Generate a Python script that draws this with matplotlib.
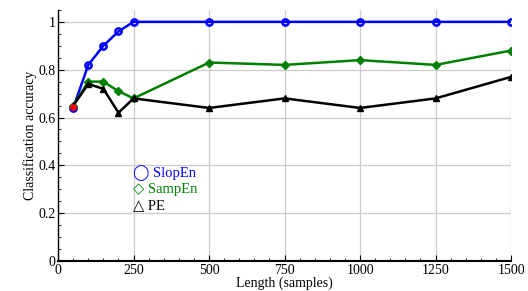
import numpy as np
import matplotlib as mpl
import matplotlib.pyplot as plt
from matplotlib.ticker import MultipleLocator

mpl.rcParams['font.family'] = ['Liberation Serif', 'DejaVu Sans']
mpl.rcParams['font.size'] = 10

lengths = [50, 100, 150, 200, 250, 500, 750, 1000, 1250, 1500]
slopen = [0.64, 0.82, 0.90, 0.96, 1.0, 1.0, 1.0, 1.0, 1.0, 1.0]
sampen = [0.65, 0.75, 0.75, 0.71, 0.68, 0.83, 0.82, 0.84, 0.82, 0.88]
pe = [0.65, 0.74, 0.72, 0.62, 0.68, 0.64, 0.68, 0.64, 0.68, 0.77]
red_x = [50]
red_y = [0.645]

fig = plt.figure(figsize=(5.28, 2.91), dpi=100)
ax = fig.add_axes([0.110, 0.103, 0.858, 0.863])

ax.plot(lengths, slopen, color='b', lw=1.8, marker='o', ms=4.5,
        mfc='none', mew=1.8, zorder=3)
ax.plot(lengths, sampen, color='g', lw=1.8, marker='D', ms=4, zorder=3)
ax.plot(lengths, pe, color='k', lw=1.8, marker='^', ms=5, zorder=3)
ax.plot(red_x, red_y, color='r', marker='o', ms=4, ls='none', zorder=4)

ax.set_xlim(0, 1500)
ax.set_ylim(0, 1.05)
ax.set_xticks([0, 250, 500, 750, 1000, 1250, 1500])
ax.set_yticks([0, 0.2, 0.4, 0.6, 0.8, 1])
ax.set_yticklabels(['0', '0.2', '0.4', '0.6', '0.8', '1'])
ax.xaxis.set_minor_locator(MultipleLocator(50))
ax.yaxis.set_minor_locator(MultipleLocator(0.05))
ax.tick_params(which='both', direction='in', top=False, right=False, pad=2)
ax.tick_params(which='major', length=4)
ax.tick_params(which='minor', length=2)
ax.grid(True, which='major', color='#cccccc', lw=0.9)
ax.set_axisbelow(True)
for s in ['top', 'right']:
    ax.spines[s].set_visible(False)
ax.spines['bottom'].set_linewidth(1.5)
ax.spines['left'].set_linewidth(1.0)

ax.set_xlabel('Length (samples)', labelpad=0)
ax.set_ylabel('Classification accuracy', labelpad=1)

ax.text(0.165, 0.335, '\u25ef SlopEn', color='b', fontsize=10.5, transform=ax.transAxes)
ax.text(0.165, 0.27, '\u25c7 SampEn', color='g', fontsize=10.5, transform=ax.transAxes)
ax.text(0.165, 0.205, '\u25b3 PE', color='k', fontsize=10.5, transform=ax.transAxes)

plt.savefig('out.png', dpi=100)
